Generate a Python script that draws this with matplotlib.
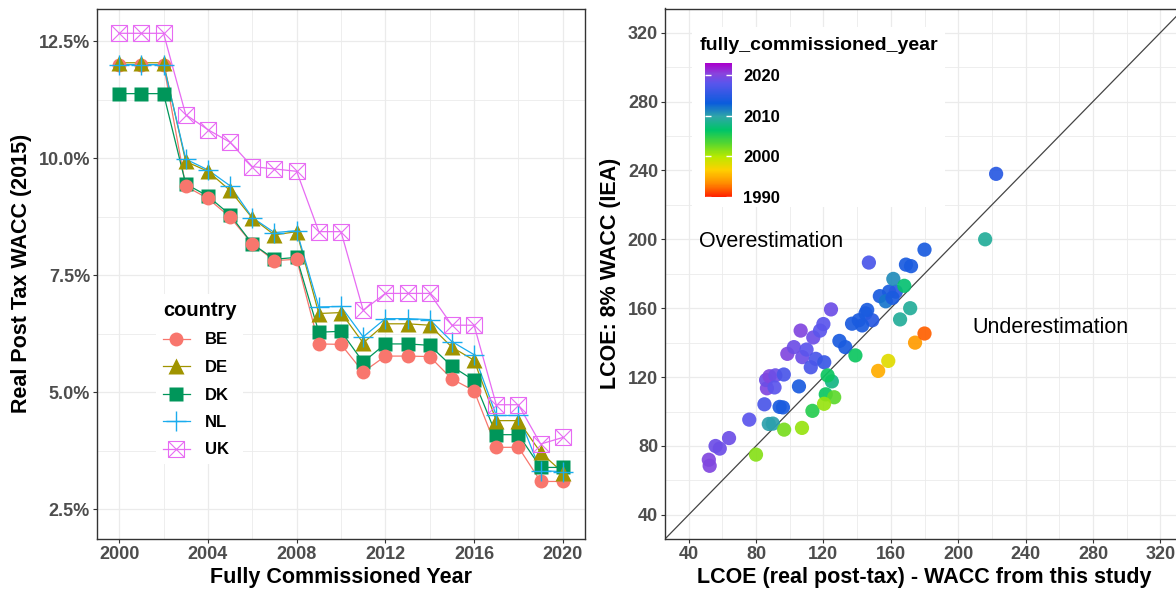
import numpy as np
import matplotlib.pyplot as plt
from matplotlib.colors import LinearSegmentedColormap, Normalize
from matplotlib.cm import ScalarMappable
from matplotlib.lines import Line2D
from matplotlib.patches import Rectangle
from matplotlib.ticker import FuncFormatter, MultipleLocator

plt.rcParams['font.family'] = ['Liberation Sans', 'DejaVu Sans']

# ---- left panel: WACC per country (percent) ----
years = list(range(2000, 2021))
wacc = {
    'BE': [12.0, 12.0, 12.0, 9.40, 9.14, 8.74, 8.17, 7.81, 7.84, 6.03, 6.02,
           5.43, 5.77, 5.77, 5.76, 5.28, 5.03, 3.82, 3.82, 3.09, 3.09],
    'DE': [12.04, 12.04, 12.04, 9.93, 9.72, 9.31, 8.72, 8.36, 8.43, 6.68, 6.70,
           6.05, 6.46, 6.46, 6.43, 5.96, 5.68, 4.39, 4.39, 3.71, 3.28],
    'DK': [11.38, 11.38, 11.38, 9.45, 9.19, 8.79, 8.17, 7.84, 7.88, 6.28, 6.30,
           5.64, 6.03, 6.03, 6.00, 5.55, 5.25, 4.09, 4.09, 3.39, 3.39],
    'NL': [12.0, 12.0, 12.0, 9.98, 9.75, 9.41, 8.73, 8.41, 8.45, 6.82, 6.83,
           6.18, 6.57, 6.57, 6.55, 6.08, 5.80, 4.50, 4.50, 3.32, 3.30],
    'UK': [12.67, 12.67, 12.67, 10.93, 10.61, 10.34, 9.82, 9.77, 9.72, 8.43, 8.43,
           6.75, 7.11, 7.11, 7.11, 6.43, 6.43, 4.73, 4.73, 3.89, 4.03],
}
countries = ['BE', 'DE', 'DK', 'NL', 'UK']

# ---- right panel: LCOE comparison ----
lcoe_study = [52, 52.5, 56, 58.5, 64, 76, 85, 86.5, 86, 88, 91.5, 96.5, 91, 98.6,
              102.5, 106.5, 107.5, 110, 114, 118, 120, 124.5, 112.5, 115.5, 120.5, 147,
              94, 96, 105.5, 129.5, 133, 137, 141, 145, 149, 146, 143, 153.5, 159,
              163, 157, 161, 169, 172, 180, 222.5,
              87.6, 90, 161.5, 171.5, 165.5, 216, 125,
              80, 96.7, 107.3, 113.5, 121.4, 126.4, 120.4, 122.5, 139, 168,
              158.5, 152.5, 174.4, 180]
lcoe_iea = [72, 68.5, 80, 78.5, 84.6, 95.3, 104.2, 113.5, 118.3, 120.5, 121, 121.5, 114,
            133.5, 137.4, 147, 131.6, 136, 143, 147, 150.8, 159.3, 125.7, 130.6, 128.6, 186.5,
            102.7, 102.4, 114.6, 141, 137.4, 151, 153, 157, 153, 159, 150, 167, 169.6,
            169.6, 164, 166, 185.3, 184.4, 194, 238,
            92.8, 93, 177, 160, 153.5, 200, 117.5,
            75, 89.5, 90.5, 100.4, 110, 108.3, 104.5, 121, 132.6, 173,
            129.4, 123.6, 140, 145.3]
comm_year = [2020, 2020, 2019, 2019, 2019, 2018, 2017, 2020, 2019, 2020, 2019, 2017, 2018,
             2020, 2019, 2020, 2019, 2018, 2019, 2018, 2018, 2019, 2017, 2017, 2016, 2017,
             2014, 2014, 2014, 2014, 2014, 2014, 2014, 2014, 2015, 2014, 2014, 2014, 2014,
             2015, 2012, 2014, 2014, 2014, 2014, 2015,
             2010, 2010, 2011, 2009, 2009, 2009, 2008,
             2001.5, 2002, 2001, 2005, 2006, 2003, 2001, 2006, 2006, 2007,
             1998, 1995, 1994, 1992]

colors = {'BE': '#F8766D', 'DE': '#A09400', 'DK': '#00965A', 'NL': '#1AACEE', 'UK': '#E76BF3'}

W, H = 1176, 592
fig = plt.figure(figsize=(W / 100, H / 100), dpi=100)


def box(l, t, r, b):
    return [l / W, 1 - b / H, (r - l) / W, (b - t) / H]


def style(ax):
    ax.set_axisbelow(True)
    ax.grid(which='major', color='#EBEBEB', lw=0.9)
    ax.grid(which='minor', color='#EBEBEB', lw=0.6)
    for s in ax.spines.values():
        s.set_color('#333333')
        s.set_linewidth(1.0)
    ax.tick_params(which='major', length=3, width=0.8, color='#333333',
                   labelsize=13, labelcolor='#4D4D4D', pad=2)
    ax.tick_params(which='minor', length=0)
    for lab in ax.get_xticklabels() + ax.get_yticklabels():
        lab.set_fontweight('bold')


# left
ax1 = fig.add_axes(box(97, 8.5, 585, 539))
for c in countries:
    ax1.plot(years, wacc[c], color=colors[c], lw=0.9, zorder=2)
marker_opts = {
    'DK': dict(marker='s', ms=10, mec='none'),
    'BE': dict(marker='o', ms=10, mec='none'),
    'DE': dict(marker='^', ms=11, mec='none'),
    'NL': dict(marker='+', ms=15, mew=1.0),
}
for c in ['DK', 'BE', 'DE', 'NL']:
    ax1.plot(years, wacc[c], ls='none', color=colors[c], zorder=3, **marker_opts[c])
ax1.plot(years, wacc['UK'], ls='none', marker='s', ms=11, mfc='none',
         mec=colors['UK'], mew=0.8, zorder=3)
ax1.plot(years, wacc['UK'], ls='none', marker='x', ms=11, mec=colors['UK'], mew=0.8, zorder=3)

ax1.set_xlim(1999, 2021)
ax1.set_ylim(1.86, 13.2)
ax1.set_xticks([2000, 2004, 2008, 2012, 2016, 2020])
ax1.xaxis.set_minor_locator(MultipleLocator(2))
ax1.set_yticks([2.5, 5.0, 7.5, 10.0, 12.5])
ax1.yaxis.set_minor_locator(MultipleLocator(1.25))
ax1.yaxis.set_major_formatter(FuncFormatter(lambda v, p: f'{v:.1f}%'))
style(ax1)
ax1.set_xlabel('Fully Commissioned Year', fontsize=15.5, fontweight='bold', labelpad=3)
ax1.set_ylabel('Real Post Tax WACC (2015)', fontsize=15.5, fontweight='bold', labelpad=5)

handles = []
for c in ['BE', 'DE', 'DK', 'NL']:
    handles.append(Line2D([], [], color=colors[c], lw=0.9, **marker_opts[c]))
handles.append((Line2D([], [], color=colors['UK'], lw=0.9, marker='s', ms=11, mfc='none',
                       mec=colors['UK'], mew=0.8),
                Line2D([], [], ls='none', marker='x', ms=11, mec=colors['UK'], mew=0.8)))
leg = ax1.legend(handles, countries, title='country', loc='upper left',
                 bbox_to_anchor=(148 / W, 1 - 286 / H), bbox_transform=fig.transFigure,
                 frameon=True, fancybox=False, edgecolor='none', facecolor='white',
                 framealpha=1, prop={'weight': 'bold', 'size': 12},
                 title_fontproperties={'weight': 'bold', 'size': 14.5},
                 handlelength=1.6, labelspacing=0.75, alignment='left', borderpad=0.4,
                 handletextpad=0.9)

# right
ax2 = fig.add_axes(box(665, 8.5, 1184, 539))
cmap = LinearSegmentedColormap.from_list('yr', [
    (0.0, '#FF2200'), (0.1, '#FF8C00'), (0.2, '#FFD000'), (0.3, '#B8EA00'),
    (0.4, '#55D630'), (0.5, '#00C468'), (0.6, '#2FA6A8'), (0.7, '#0A5CDC'),
    (0.85, '#5A55EC'), (0.92, '#8844DD'), (1.0, '#AA00CC')])
norm = Normalize(1990, 2023)
ax2.scatter(lcoe_study, lcoe_iea, c=comm_year, cmap=cmap, norm=norm, s=105,
            edgecolors='none', alpha=0.92, zorder=3)
ax2.plot([26, 334], [26, 334], color='#444444', lw=0.9, zorder=2)
ax2.set_xlim(26, 334)
ax2.set_ylim(26, 334)
ticks = [40, 80, 120, 160, 200, 240, 280, 320]
ax2.set_xticks(ticks)
ax2.set_yticks(ticks)
ax2.xaxis.set_minor_locator(MultipleLocator(20))
ax2.yaxis.set_minor_locator(MultipleLocator(20))
style(ax2)
ax2.set_xlabel('LCOE (real post-tax) - WACC from this study', fontsize=15.5,
               fontweight='bold', labelpad=3)
ax2.set_ylabel('LCOE: 8% WACC (IEA)', fontsize=15.5, fontweight='bold', labelpad=5)
ax2.text(46, 199, 'Overestimation', fontsize=15.5, ha='left', va='center')
ax2.text(208.5, 149, 'Underestimation', fontsize=15.5, ha='left', va='center')

ax2.add_patch(Rectangle(((692) / W, 1 - 207 / H), 253 / W, 180 / H,
                        transform=fig.transFigure, facecolor='white', edgecolor='none',
                        zorder=1))
fig.text(700 / W, 1 - 45 / H, 'fully_commissioned_year', fontsize=14, fontweight='bold',
         ha='left', va='center')
cax = fig.add_axes(box(705, 63, 732, 197))
cax.set_zorder(3)
cb = fig.colorbar(ScalarMappable(norm=norm, cmap=cmap), cax=cax)
cb.outline.set_visible(False)
cb.set_ticks([1990, 2000, 2010, 2020])
cax.yaxis.set_ticks_position('both')
cax.tick_params(axis='y', direction='in', color='white', length=4, width=1,
                labelsize=12, pad=8, labelright=True, labelleft=False)
for lab in cax.get_yticklabels():
    lab.set_fontweight('bold')

fig.savefig('out.png', dpi=100)
